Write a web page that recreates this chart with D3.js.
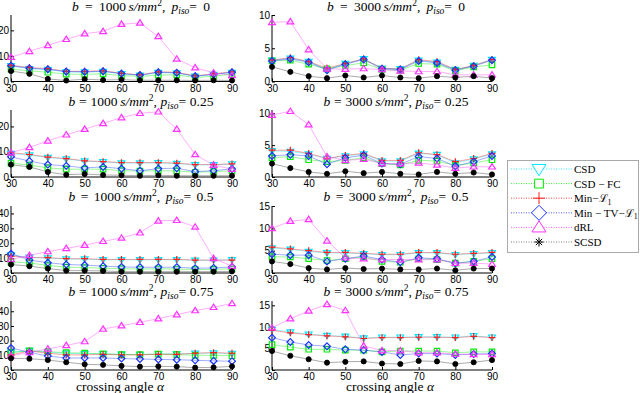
<!DOCTYPE html>
<html>
<head>
<meta charset="utf-8">
<script src="https://cdn.jsdelivr.net/npm/d3@7"></script>
<style>
  body { margin: 0; background: #fff; }
  svg { display: block; }
  .tick text { font-family: "Liberation Sans", Arial, sans-serif; font-size: 10px; fill: #000; }
  .ttl, .xlab, .leg { font-family: "Liberation Serif", "DejaVu Serif", serif; fill: #000; }
</style>
</head>
<body>
<svg id="chart" width="640" height="393"></svg>
<script>
// crossing angles (x axis)
var angles = [30, 35, 40, 45, 50, 55, 60, 65, 70, 75, 80, 85, 90];

// panels, row-major: (b=1000,p=0) (b=3000,p=0) (b=1000,p=.25) ...
var bvals = ["1000", "3000"];
var pisos = ["0", "0.25", "0.5", "0.75"];
var ymax = [26, 10, 26.5, 10.5, 45, 15, 47, 16];
var yticks = [[0,10,20],[0,5,10],[0,10,20],[0,5,10],[0,10,20,30,40],[0,5,10,15],[0,10,20,30,40],[0,5,10,15]];

var methods = ["CSD", "CSD \u2212 FC", "Min\u2212\u2112", "Min \u2212 TV\u2212\u2112", "dRL", "SCSD"];

// one list per method, one series per panel
var csd = [
  [6.1, 5.0, 4.7, 3.7, 3.7, 3.9, 3.0, 2.4, 3.5, 3.3, 2.0, 2.7, 3.5],
  [3.2, 3.5, 3.0, 1.8, 2.7, 3.4, 2.0, 1.9, 3.2, 2.9, 1.8, 2.4, 3.3],
  [9.3, 8.7, 7.7, 7.1, 6.3, 6.0, 5.5, 5.5, 5.6, 5.3, 4.8, 4.8, 5.1],
  [4.1, 4.0, 3.6, 2.9, 3.3, 3.6, 2.5, 2.5, 3.7, 3.5, 2.2, 2.8, 3.6],
  [12.0, 10.5, 10.0, 9.4, 9.3, 8.9, 8.9, 8.8, 8.9, 8.9, 8.5, 8.6, 8.8],
  [5.6, 5.3, 4.8, 4.5, 4.5, 4.3, 4.1, 4.1, 4.5, 4.5, 4.1, 4.3, 4.5],
  [12.0, 13.2, 12.0, 11.3, 11.0, 11.0, 10.7, 10.5, 11.0, 11.0, 11.3, 11.5, 11.2],
  [9.4, 8.8, 8.3, 8.0, 7.8, 7.4, 7.6, 7.6, 7.7, 7.7, 7.6, 7.9, 7.6]
];
var csdfc = [
  [4.8, 4.2, 3.6, 2.9, 2.8, 3.0, 2.3, 2.0, 2.5, 2.6, 1.5, 2.1, 2.8],
  [3.1, 3.2, 2.6, 1.9, 2.4, 2.8, 1.8, 1.7, 2.7, 2.6, 1.6, 2.2, 2.5],
  [5.5, 4.7, 3.6, 3.1, 3.1, 3.1, 2.5, 2.3, 2.5, 2.4, 1.9, 2.1, 2.5],
  [3.0, 3.2, 2.7, 2.4, 2.6, 3.0, 2.1, 1.9, 2.6, 2.5, 1.8, 2.2, 2.7],
  [7.5, 6.8, 5.0, 4.0, 3.6, 3.2, 2.9, 2.7, 2.8, 2.7, 2.3, 2.5, 2.8],
  [3.6, 3.6, 3.2, 2.8, 3.2, 3.6, 2.6, 2.4, 3.2, 3.0, 2.2, 2.6, 3.2],
  [12.0, 13.0, 12.5, 11.8, 11.5, 11.0, 10.5, 10.5, 10.8, 10.5, 10.0, 10.0, 9.7],
  [5.9, 5.3, 4.8, 4.8, 4.6, 4.6, 4.2, 4.4, 4.4, 4.4, 4.0, 4.2, 4.2]
];
var minl1 = [
  [6.3, 5.5, 5.0, 4.0, 4.0, 4.2, 3.2, 2.6, 3.8, 3.6, 2.2, 3.0, 3.8],
  [3.2, 3.6, 3.0, 2.0, 2.7, 3.4, 2.0, 1.9, 3.3, 3.0, 1.8, 2.4, 3.3],
  [9.6, 8.9, 7.9, 7.3, 6.4, 6.1, 5.7, 5.7, 5.7, 5.5, 4.9, 4.9, 5.2],
  [4.2, 4.2, 3.7, 2.9, 3.4, 3.7, 2.6, 2.6, 3.8, 3.5, 2.4, 2.9, 3.7],
  [11.4, 10.3, 10.3, 9.6, 9.6, 9.1, 9.1, 9.1, 9.1, 9.1, 8.7, 8.7, 8.7],
  [5.8, 5.4, 5.0, 4.6, 4.6, 4.4, 4.2, 4.2, 4.6, 4.6, 4.2, 4.4, 4.6],
  [10.3, 13.0, 11.4, 10.3, 10.3, 10.7, 10.3, 10.3, 10.7, 10.7, 11.4, 11.9, 11.4],
  [9.2, 8.6, 8.2, 7.9, 7.7, 7.3, 7.5, 7.5, 7.6, 7.6, 7.5, 7.8, 7.5]
];
var mintv = [
  [6.2, 5.2, 4.8, 3.9, 3.8, 4.0, 3.1, 2.5, 3.6, 3.4, 2.1, 2.8, 3.6],
  [3.1, 3.4, 2.9, 1.7, 2.6, 3.3, 1.9, 1.8, 3.1, 2.8, 1.7, 2.3, 3.2],
  [8.0, 6.3, 4.9, 4.4, 3.6, 4.0, 3.3, 2.5, 3.3, 3.5, 2.1, 2.5, 3.2],
  [3.3, 3.5, 3.3, 2.0, 3.0, 3.4, 2.1, 2.0, 3.2, 2.9, 1.7, 2.4, 3.3],
  [13.0, 8.7, 6.9, 5.7, 5.3, 4.6, 4.1, 3.9, 3.9, 3.9, 3.2, 3.4, 4.1],
  [4.2, 4.0, 4.0, 2.6, 3.2, 3.8, 3.0, 2.4, 3.4, 3.2, 2.2, 2.6, 3.6],
  [15.0, 12.0, 9.5, 8.2, 8.2, 8.2, 7.8, 7.5, 7.2, 7.0, 6.6, 6.2, 6.0],
  [7.5, 6.5, 5.8, 5.5, 4.8, 4.6, 4.2, 3.5, 3.8, 3.8, 3.5, 3.7, 3.8]
];
var drl = [
  [9.5, 11.8, 14.1, 16.5, 18.7, 19.6, 22.4, 22.9, 17.6, 8.8, 5.4, 3.4, 2.4],
  [8.9, 9.0, 4.8, 1.9, 1.85, 1.95, 1.8, 1.6, 1.5, 1.5, 1.0, 1.0, 1.0],
  [9.6, 11.7, 14.3, 16.7, 18.9, 21.2, 23.5, 25.2, 25.8, 18.9, 8.9, 4.7, 3.1],
  [9.7, 10.3, 8.2, 3.2, 2.6, 2.8, 2.1, 2.1, 2.2, 1.9, 1.4, 1.6, 1.6],
  [9.1, 11.9, 14.4, 16.5, 18.7, 21.3, 23.5, 27.0, 35.0, 35.4, 30.9, 9.8, 4.6],
  [10.0, 11.6, 12.0, 7.2, 3.4, 3.2, 3.0, 3.0, 3.0, 3.0, 2.2, 2.2, 2.0],
  [9.6, 11.9, 14.4, 16.7, 19.4, 27.9, 30.2, 32.5, 35.0, 37.7, 40.5, 42.7, 45.3],
  [9.8, 11.9, 13.7, 15.2, 13.8, 5.6, 4.5, 4.5, 4.0, 4.0, 3.7, 3.6, 3.6]
];
var scsd = [
  [4.1, 3.0, 1.0, 0.4, 0.9, 0.6, 0.7, 0.5, 0.5, 0.5, 0.4, 0.5, 0.4],
  [2.2, 1.45, 0.8, 0.5, 0.9, 0.6, 0.9, 0.6, 0.5, 0.8, 0.6, 0.8, 0.5],
  [4.9, 4.0, 2.0, 0.9, 1.2, 0.8, 0.7, 0.5, 0.7, 0.5, 0.5, 0.5, 0.5],
  [2.1, 1.4, 0.8, 0.5, 0.9, 0.6, 0.8, 0.5, 0.4, 0.8, 0.5, 0.7, 0.4],
  [5.7, 4.6, 3.0, 1.6, 1.6, 1.4, 0.9, 0.9, 0.9, 0.9, 0.9, 0.9, 1.1],
  [2.6, 2.0, 1.1, 0.8, 1.1, 0.9, 1.0, 0.8, 0.8, 1.0, 0.6, 1.0, 1.0],
  [8.0, 7.7, 6.8, 5.3, 3.9, 3.5, 2.8, 2.3, 2.5, 2.3, 1.6, 1.8, 2.5],
  [4.4, 3.3, 2.5, 1.7, 1.9, 2.0, 1.5, 1.4, 2.1, 2.0, 1.4, 1.8, 2.3]
];

var series = [csd, csdfc, minl1, mintv, drl, scsd];
var colors = ["#00e5ff", "#00ee00", "#ff1a1a", "#1a33ff", "#ff33ff", "#000000"];
var markers = ["tridown", "square", "plus", "diamond", "triup", "dot"];

// marker shapes, s = half size
function marker_path(type, s) {
  if (type == "tridown") return "M" + (-s) + "," + (-s*0.65) + "L" + s + "," + (-s*0.65) + "L0," + (s*0.95) + "Z";
  if (type == "triup") return "M" + (-s) + "," + (s*0.65) + "L" + s + "," + (s*0.65) + "L0," + (-s*0.95) + "Z";
  if (type == "square") return "M" + (-s*0.8) + "," + (-s*0.8) + "h" + (s*1.6) + "v" + (s*1.6) + "h" + (-s*1.6) + "Z";
  if (type == "plus") return "M" + (-s) + ",0h" + (2*s) + "M0," + (-s) + "v" + (2*s);
  if (type == "diamond") return "M0," + (-s) + "L" + s + ",0L0," + s + "L" + (-s) + ",0Z";
  if (type == "star") {
    var p = "M" + (-s) + ",0h" + (2*s) + "M0," + (-s) + "v" + (2*s);
    var d = s * 0.7;
    return p + "M" + (-d) + "," + (-d) + "L" + d + "," + d + "M" + (-d) + "," + d + "L" + d + "," + (-d);
  }
  return d3.symbol().type(d3.symbolCircle).size(s*s*3.1)();
}

var svg = d3.select("#chart");

var colX = [[11, 232], [272, 492]];
var rowY = [[15, 81.5], [110, 177], [206, 273], [301, 370]];
var titleX = [141, 396];

function draw_title(g, x, y, b, p) {
  var t = g.append("text").attr("class", "ttl").attr("x", x).attr("y", y)
    .attr("text-anchor", "middle").style("font-size", "13.5px");
  t.append("tspan").style("font-style", "italic").text("b");
  t.append("tspan").text(" = " + b + "\u2009");
  t.append("tspan").style("font-style", "italic").text("s/mm");
  t.append("tspan").attr("dy", -5).style("font-size", "9.5px").text("2");
  t.append("tspan").attr("dy", 5).text(", ");
  t.append("tspan").style("font-style", "italic").text("p");
  t.append("tspan").attr("dy", 3).style("font-style", "italic").style("font-size", "9.5px").text("iso");
  t.append("tspan").attr("dy", -3).text("= " + p);
  // LaTeX spacing is wider: stretch the spaces to the reference width
  var w = t.node().getComputedTextLength();
  var target = p == "0" ? 138 : 145;
  if (w < target) t.style("word-spacing", ((target - w) / 4) + "px");
}

for (var k = 0; k < 8; k++) {
  var row = Math.floor(k / 2), col = k % 2;
  var x = d3.scaleLinear().domain([30, 90]).range(colX[col]);
  var y = d3.scaleLinear().domain([0, ymax[k]]).range([rowY[row][1], rowY[row][0]]);
  var g = svg.append("g");

  g.append("g").attr("transform", "translate(0," + rowY[row][1] + ")")
    .call(d3.axisBottom(x).tickValues(d3.range(30, 91, 10)).tickSize(-3).tickPadding(3).tickFormat(d3.format("d")))
    .call(function(a){ a.select(".domain").attr("stroke", "#000").attr("d", "M" + colX[col][0] + ",0H" + colX[col][1]); });

  g.append("g").attr("transform", "translate(" + colX[col][0] + ",0)")
    .call(d3.axisLeft(y).tickValues(yticks[k]).tickSize(-3).tickPadding(2).tickFormat(d3.format("d")))
    .call(function(a){ a.select(".domain").attr("stroke", "#000").attr("d", "M0," + rowY[row][0] + "V" + rowY[row][1]); });

  draw_title(g, titleX[col], 10.5 + row * 95.3, bvals[col], pisos[row]);

  for (var m = 0; m < series.length; m++) {
    var vals = series[m][k];
    var pts = angles.map(function(a, i){ return [x(a), y(vals[i])]; });
    g.append("path")
      .attr("d", d3.line()(pts))
      .attr("fill", "none")
      .attr("stroke", m == 5 ? "#888" : colors[m])
      .attr("stroke-opacity", m == 5 ? 0.7 : 0.4)
      .attr("stroke-width", 1);
    g.selectAll(null).data(pts).enter().append("path")
      .attr("transform", function(d){ return "translate(" + d[0] + "," + d[1] + ")"; })
      .attr("d", marker_path(markers[m], m == 5 ? 2.6 : 3.4))
      .attr("fill", m == 5 ? "#000" : "none")
      .attr("stroke", colors[m])
      .attr("stroke-width", m == 5 ? 0.8 : 1.2);
  }

  if (row == 3) {
    var xl = g.append("text").attr("class", "xlab")
      .attr("x", col == 0 ? 120 : 390).attr("y", 391)
      .attr("text-anchor", "middle").style("font-size", "13.5px");
    xl.append("tspan").text("crossing angle ");
    xl.append("tspan").style("font-style", "italic").text("\u03b1");
  }
}

// legend
var leg = svg.append("g");
leg.append("rect").attr("x", 507.5).attr("y", 160.5).attr("width", 131).attr("height", 92)
  .attr("fill", "#fff").attr("stroke", "#aaa").attr("stroke-width", 1);
var legMarks = ["tridown", "square", "plus", "diamond", "triup", "star"];
var legSize = [7, 5.5, 6, 7.5, 7, 4.5];
for (var i = 0; i < methods.length; i++) {
  var ly = 169 + i * 14.6;
  leg.append("line").attr("x1", 511).attr("x2", 572).attr("y1", ly).attr("y2", ly)
    .attr("stroke", i == 5 ? "#555" : colors[i]).attr("stroke-width", 0.8)
    .attr("stroke-dasharray", "1,1.5");
  leg.append("path").attr("transform", "translate(539," + ly + ")")
    .attr("d", marker_path(legMarks[i], legSize[i]))
    .attr("fill", "#fff").attr("stroke", colors[i]).attr("stroke-width", 1);
  var lt = leg.append("text").attr("class", "leg").attr("x", 574).attr("y", ly + 4)
    .style("font-size", "11px");
  if (i == 2 || i == 3) {
    lt.append("tspan").text(methods[i]);
    lt.append("tspan").attr("dy", 2.5).style("font-size", "8px").text("1");
  } else {
    lt.text(methods[i]);
  }
}
</script>
</body>
</html>
